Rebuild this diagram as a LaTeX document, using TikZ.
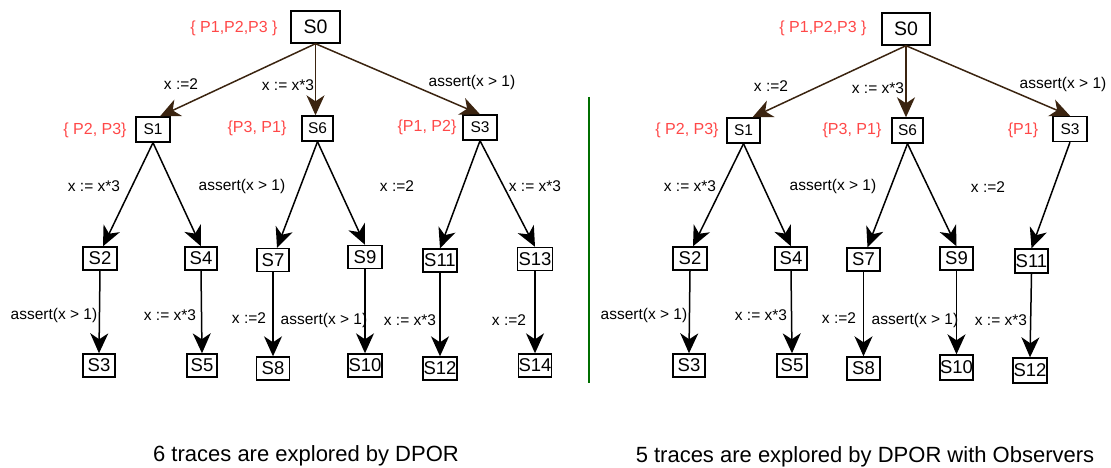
\documentclass[tikz,border=0pt]{standalone}
\usepackage{fontspec}
\setmainfont{Liberation Sans}
\usetikzlibrary{arrows.meta}
\definecolor{redlbl}{RGB}{255,72,72}
\definecolor{brownarr}{RGB}{59,36,16}
\definecolor{divgreen}{RGB}{0,110,0}
\begin{document}
\begin{tikzpicture}[x=1pt,y=-1pt,
  st/.style={draw=black, line width=1.4pt, fill=white, inner sep=0pt, minimum width=33pt, minimum height=23pt, font=\fontsize{18.5}{18.5}\selectfont},
  stone/.style={st, minimum height=25pt, font=\fontsize{15.5}{15.5}\selectfont},
  stzero/.style={st, minimum width=49pt, minimum height=32pt, font=\fontsize{19.5}{19.5}\selectfont},
  lbl/.style={inner sep=0pt, font=\fontsize{15.5}{16}\selectfont},
  pset/.style={inner sep=0pt, text=redlbl, font=\fontsize{16}{16}\selectfont},
  arr/.style={line width=1.5pt, arrows={-Stealth[length=20pt,width=18pt,inset=6pt]}},
  toparr/.style={arr, draw=brownarr},
  caption/.style={inner sep=0pt, font=\fontsize{22}{22}\selectfont}]
\useasboundingbox (0,0) rectangle (1111,468);

% ---------------- left tree ----------------
\node[stzero] (l0) at (315.5,27) {S0};
\node[stone, minimum width=34pt] (l1) at (153,129.5) {S1};
\node[stone, minimum width=31pt] (l6) at (317.5,128.5) {S6};
\node[stone, minimum width=34pt] (l3) at (480,127.5) {S3};
\node[st, minimum width=34pt] (l2) at (100,258.5) {S2};
\node[st, minimum width=32pt] (l4) at (201,258.5) {S4};
\node[st, minimum width=32pt] (l7) at (273,260) {S7};
\node[st, minimum width=34pt] (l9) at (365,257) {S9};
\node[st, minimum width=34pt] (l11) at (440,260.5) {S11};
\node[st, minimum width=35pt] (l13) at (535,259) {S13};
\node[st, minimum width=32pt] (l3b) at (99,365.5) {S3};
\node[st, minimum width=30pt] (l5) at (202,365.5) {S5};
\node[st, minimum width=33pt] (l8) at (273,368.5) {S8};
\node[st, minimum width=34pt] (l10) at (365,365.5) {S10};
\node[st, minimum width=34pt] (l12) at (440,368.5) {S12};
\node[st, minimum width=33pt] (l14) at (535,365.5) {S14};

\draw[toparr] (l0.south) -- ([xshift=7pt]l1.north);
\draw[toparr] (l0.south) -- (l0.south |- l6.north);
\draw[toparr] (l0.south) -- (l3.north);
\draw[arr] (l1.south) -- ([xshift=3pt]l2.north);
\draw[arr] (l1.south) -- (l4.north);
\draw[arr] (l6.south) -- ([xshift=4pt]l7.north);
\draw[arr] (l6.south) -- (l9.north);
\draw[arr] (l3.south) -- (l11.north);
\draw[arr] (l3.south) -- (l13.north);
\draw[arr] (l2.south) -- (l3b.north);
\draw[arr] (l4.south) -- (l5.north);
\draw[arr] (l7.south) -- (l8.north);
\draw[arr] (l9.south) -- (l10.north);
\draw[arr] (l11.south) -- (l12.north);
\draw[arr] (l13.south) -- (l14.north);

\node[pset] (lp0) at (234,28) {\{ P1,P2,P3 \}};
\node[pset] (lp1) at (95,130) {\{ P2, P3\}};
\node[pset] (lp6) at (257,128) {\{P3, P1\}};
\node[pset] (lp3) at (427,127) {\{P1, P2\}};

\node[lbl] (la1) at (181,84) {x :=2};
\node[lbl] (la2) at (288,85) {x := x*3};
\node[lbl] (la3) at (472,82) {assert(x > 1)};
\node[lbl] (la4) at (94,186) {x := x*3};
\node[lbl] (la5) at (242,186) {assert(x > 1)};
\node[lbl] (la6) at (397,186) {x :=2};
\node[lbl] (la7) at (535,186) {x := x*3};
\node[lbl] (la8) at (54,315) {assert(x > 1)};
\node[lbl] (la9) at (170,315) {x := x*3};
\node[lbl] (la10) at (249,318) {x :=2};
\node[lbl] (la11) at (324,320) {assert(x > 1)};
\node[lbl] (la12) at (410,320) {x := x*3};
\node[lbl] (la13) at (509,320) {x :=2};

% ---------------- divider ----------------
\draw[divgreen, line width=2.6pt] (589,97) -- (589,383);

% ---------------- right tree ----------------
\node[stzero, minimum width=48pt] (r0) at (906,29) {S0};
\node[stone, minimum width=33pt] (r1) at (743.5,130.5) {S1};
\node[stone, minimum width=31pt] (r6) at (907.5,130.5) {S6};
\node[stone, minimum width=34pt] (r3) at (1070,129) {S3};
\node[st, minimum width=34pt] (r2) at (690,258.5) {S2};
\node[st, minimum width=32pt] (r4) at (791,258.5) {S4};
\node[st, minimum width=33pt] (r7) at (863.5,259.5) {S7};
\node[st, minimum width=33pt] (r9) at (956.5,258.5) {S9};
\node[st, minimum width=33pt, minimum height=24pt] (r11) at (1031.5,261) {S11};
\node[st, minimum width=32pt] (r3b) at (689,365.5) {S3};
\node[st, minimum width=30pt] (r5) at (792,365.5) {S5};
\node[st, minimum width=33pt] (r8) at (863.5,368.5) {S8};
\node[st, minimum width=33pt, minimum height=25pt] (r10) at (956.5,367.5) {S10};
\node[st, minimum width=34pt, minimum height=25pt] (r12) at (1030,370.5) {S12};

\draw[toparr] (r0.south) -- ([xshift=9pt]r1.north);
\draw[toparr] (r0.south) -- (r0.south |- r6.north);
\draw[toparr] (r0.south) -- (r3.north);
\draw[arr] (r1.south) -- ([xshift=3pt]r2.north);
\draw[arr] (r1.south) -- (r4.north);
\draw[arr] (r6.south) -- ([xshift=4pt]r7.north);
\draw[arr] (r6.south) -- (r9.north);
\draw[arr] (r3.south) -- (r11.north);
\draw[arr] (r2.south) -- (r3b.north);
\draw[arr] (r4.south) -- (r5.north);
\draw[arr] (r7.south) -- (r8.north);
\draw[arr] (r9.south) -- (r10.north);
\draw[arr] (r11.south) -- (r12.north);

\node[pset] (rp0) at (823,28) {\{ P1,P2,P3 \}};
\node[pset] (rp1) at (687,130) {\{ P2, P3\}};
\node[pset] (rp6) at (852,130) {\{P3, P1\}};
\node[pset] (rp3) at (1023,130) {\{P1\}};

\node[lbl] (ra1) at (771,86) {x :=2};
\node[lbl] (ra2) at (878,88) {x := x*3};
\node[lbl] (ra3) at (1063,84) {assert(x > 1)};
\node[lbl] (ra4) at (690,186) {x := x*3};
\node[lbl] (ra5) at (833,186) {assert(x > 1)};
\node[lbl] (ra6) at (988,187) {x :=2};
\node[lbl] (ra8) at (644,315) {assert(x > 1)};
\node[lbl] (ra9) at (761,315) {x := x*3};
\node[lbl] (ra10) at (839,318) {x :=2};
\node[lbl] (ra11) at (915,320) {assert(x > 1)};
\node[lbl] (ra12) at (1001,320) {x := x*3};

% ---------------- captions ----------------
\node[caption] (cl) at (306,456) {6 traces are explored by DPOR};
\node[caption] (cr) at (865,457) {5 traces are explored by DPOR with Observers};
\end{tikzpicture}
\end{document}
